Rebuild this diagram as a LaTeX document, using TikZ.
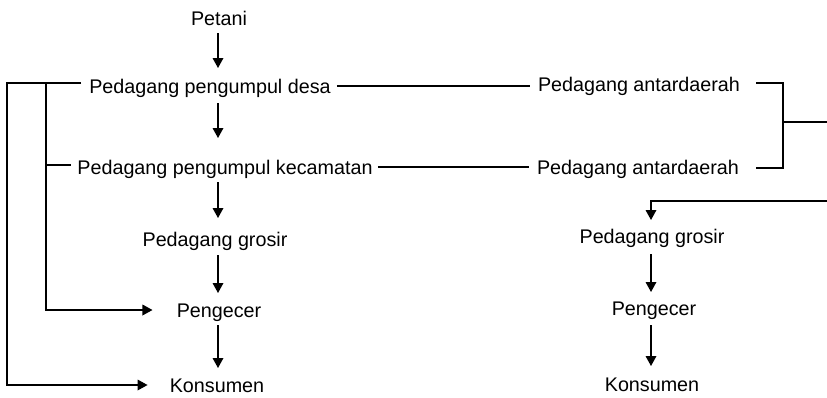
\documentclass[tikz,border=0pt]{standalone}
\usepackage{fontspec}
\setmainfont{Liberation Sans}
\usetikzlibrary{arrows.meta,calc}
\begin{document}
\begin{tikzpicture}[x=0.75pt,y=-0.75pt,
  every node/.style={font=\fontsize{14.8}{17}\selectfont, inner sep=0pt, anchor=base},
  ln/.style={line width=0.95pt},
  arr/.style={ln, -{Triangle[length=7.5pt,width=8pt]}}]
\useasboundingbox (0,0) rectangle (827,397);
% left column
\node (pet) at (219,25) {Petani};
\node (desa) at (210,93) {Pedagang pengumpul desa};
\node (kec) at (225,174) {Pedagang pengumpul kecamatan};
\node (gL) at (215,246) {Pedagang grosir};
\node (pL) at (219,317) {Pengecer};
\node (kL) at (217,392) {Konsumen};
% right column
\node (a1) at (639,91) {Pedagang antardaerah};
\node (a2) at (638,174) {Pedagang antardaerah};
\node (gR) at (652,243) {Pedagang grosir};
\node (pR) at (654,315) {Pengecer};
\node (kR) at (652,391) {Konsumen};
\coordinate (eA) at (827,122);
\coordinate (eB) at (827,201);
% vertical arrows left
\draw[arr] (pet.base) ++(-1,8) -- ++(0,35);
\draw[arr] (desa.base) ++(8,10) -- ++(0,35);
\draw[arr] (kec.base) ++(-7,8) -- ++(0,36);
\draw[arr] (gL.base) ++(3,9) -- ++(0,38);
\draw[arr] (pL.base) ++(-1,8) -- ++(0,43);
% vertical arrows right
\draw[arr] (gR.base) ++(-1,11) -- ++(0,38);
\draw[arr] (pR.base) ++(-3,10) -- ++(0,41);
% left feedback lines
\draw[arr] ($(desa.base west)+(-8,-10)$) -- (7,83) |- ($(kL.base west)+(-22,-7)$);
\draw[arr] (46,83) |- ($(pL.base west)+(-24,-7)$);
\draw[ln] (46,165) -- ($(kec.base west)+(-6,-9)$);
% horizontal links
\draw[ln] ($(desa.base east)+(6,-7)$) -- ($(a1.base west)+(-8,-5)$);
\draw[ln] ($(kec.base east)+(5,-7)$) -- ($(a2.base west)+(-8,-7)$);
% right bracket
\draw[ln] ($(a1.base east)+(16,-8)$) -| (783,168) -- ($(a2.base east)+(17,-6)$);
\draw[ln] (783,122) -- (eA);
\draw[arr] (eB) -| ($(gR.base)+(-1,-23)$);
\end{tikzpicture}
\end{document}
